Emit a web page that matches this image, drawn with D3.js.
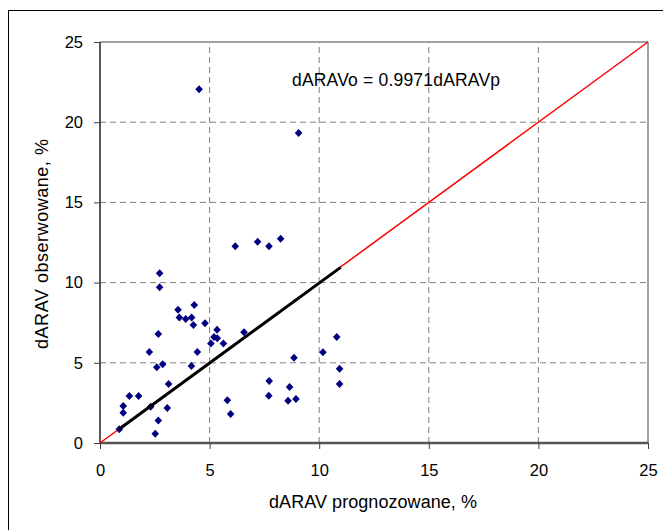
<!DOCTYPE html>
<html><head><meta charset="utf-8">
<script src="https://cdn.jsdelivr.net/npm/d3@7"></script>
<style>body{margin:0;background:#fff}svg{display:block;font-family:"Liberation Sans",Arial,sans-serif}</style>
</head><body>
<script>
const xPred = [2.72,2.72,6.17,7.19,7.71,3.56,4.30,3.62,3.91,4.18,4.26,4.79,2.66,5.34,5.20,5.35,5.06,5.63,6.57,4.44,2.25,2.59,2.86,4.17,3.13,1.34,1.76,1.06,1.06,2.31,3.07,2.66,2.52,0.88,5.81,5.96,7.72,7.70,4.52,9.06,8.24,10.80,10.17,8.85,10.93,10.93,8.65,8.58,8.94];
const yObs  = [10.58,9.71,12.27,12.54,12.27,8.31,8.60,7.83,7.73,7.83,7.36,7.46,6.80,7.06,6.61,6.53,6.21,6.21,6.90,5.67,5.67,4.72,4.91,4.80,3.68,2.93,2.93,2.31,1.89,2.26,2.18,1.41,0.58,0.85,2.66,1.81,3.87,2.94,22.05,19.33,12.74,6.61,5.65,5.32,4.63,3.68,3.49,2.64,2.74];
const tickValues = [0,5,10,15,20,25];
const slope = 0.9971;
const eqLabel = "dARAVo = 0.9971dARAVp";
const xTitle = "dARAV prognozowane, %";
const yTitle = "dARAV obserwowane, %";

const W = 663, H = 530;
const svg = d3.select("body").append("svg").attr("width", W).attr("height", H);
const x = d3.scaleLinear().domain([0,25]).range([100,648]);
const y = d3.scaleLinear().domain([0,25]).range([443,42]);

// outer frame
svg.append("rect").attr("x",8.5).attr("y",10.5).attr("width",720).attr("height",600)
  .attr("fill","none").attr("stroke","#000").attr("stroke-width",1);

// gridlines
const grid = svg.append("g");
tickValues.slice(1,-1).forEach(v=>{
  grid.append("line").attr("x1",x(v)).attr("x2",x(v)).attr("y1",y(0)).attr("y2",y(25))
    .attr("stroke","#808080").attr("stroke-dasharray","6,4");
  grid.append("line").attr("x1",x(0)).attr("x2",x(25)).attr("y1",y(v)).attr("y2",y(v))
    .attr("stroke","#808080").attr("stroke-dasharray","6,4");
});
// plot border top/right
svg.append("line").attr("x1",x(0)).attr("x2",x(25)).attr("y1",y(25)).attr("y2",y(25)).attr("stroke","#808080").attr("stroke-width",1.5);
svg.append("line").attr("x1",x(25)).attr("x2",x(25)).attr("y1",y(0)).attr("y2",y(25)).attr("stroke","#808080").attr("stroke-width",1.5);

// axes
const xAxis = d3.axisBottom(x).tickValues(tickValues).tickSize(6).tickPadding(15);
const yAxis = d3.axisLeft(y).tickValues(tickValues).tickSize(6).tickPadding(11);
const gx = svg.append("g").attr("transform",`translate(0,${y(0)})`).call(xAxis);
const gy = svg.append("g").attr("transform",`translate(${x(0)},0)`).call(yAxis);
[gx,gy].forEach(g=>{
  g.selectAll("text").attr("font-size",16.5).attr("fill","#000").attr("font-family","Liberation Sans, Arial, sans-serif");
  g.selectAll("line").attr("stroke","#404040");
});
gx.select(".domain").attr("stroke","#555").attr("stroke-width",2.5).attr("d",`M${x(0)},0H${x(25)}`);
gy.select(".domain").attr("stroke","#222").attr("stroke-width",1.5).attr("d",`M0,${y(0)}V${y(25)}`);

// red y=x line
svg.append("line").attr("x1",x(0)).attr("y1",y(0)).attr("x2",x(25)).attr("y2",y(25))
  .attr("stroke","#ff0000").attr("stroke-width",1.5);

// points
const pts = xPred.map((v,i)=>[v,yObs[i]]);
svg.append("g").selectAll("path").data(pts).join("path")
  .attr("transform",d=>`translate(${x(d[0])},${y(d[1])})`)
  .attr("d","M0,-4L3.8,0L0,4L-3.8,0Z").attr("fill","#000080");

// trend line
const x0 = d3.min(xPred), x1 = 10.98;
svg.append("line").attr("x1",x(x0)).attr("y1",y(slope*x0)).attr("x2",x(x1)).attr("y2",y(slope*x1))
  .attr("stroke","#000").attr("stroke-width",3);

// equation
svg.append("text").attr("x",292).attr("y",86).attr("font-size",17.5)
  .attr("textLength",208).attr("lengthAdjust","spacing").text(eqLabel);

// axis titles
svg.append("text").attr("x",373).attr("y",508).attr("text-anchor","middle").attr("font-size",18)
  .attr("textLength",208).attr("lengthAdjust","spacing").text(xTitle);
svg.append("text").attr("transform","translate(48,244) rotate(-90)").attr("text-anchor","middle").attr("font-size",18)
  .attr("textLength",210).attr("lengthAdjust","spacing").text(yTitle);
</script>
</body></html>
